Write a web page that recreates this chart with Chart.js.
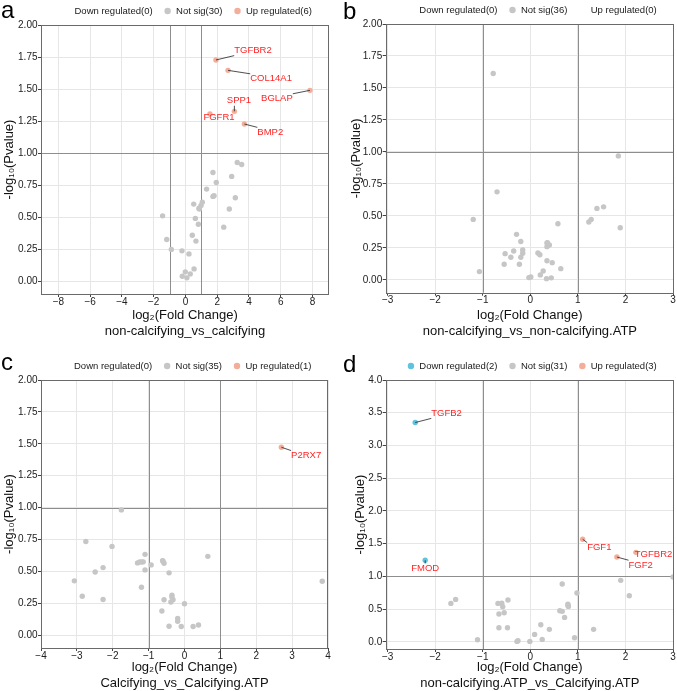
<!DOCTYPE html>
<html>
<head>
<meta charset="utf-8">
<title>Volcano plots</title>
<script src="https://cdn.jsdelivr.net/npm/chart.js@4.4.1/dist/chart.umd.min.js"></script>
<style>
  html, body { margin: 0; padding: 0; background: #fff; }
  #wrap { position: relative; width: 677px; height: 691px; }
  canvas { position: absolute; }
</style>
</head>
<body>
<div id="wrap">
  <canvas id="panelA" width="338" height="345" style="left:0;top:0"></canvas>
  <canvas id="panelB" width="339" height="345" style="left:338px;top:0"></canvas>
  <canvas id="panelC" width="338" height="346" style="left:0;top:345px"></canvas>
  <canvas id="panelD" width="339" height="346" style="left:338px;top:345px"></canvas>
</div>
<script>
// ===== Data (log2 fold change / -log10 p value) =====

// a: non-calcifying_vs_calcifying
const aNotSigX = [3.26, 3.54, 1.73, 2.91, 1.94, 1.33, 1.73, 1.80, 3.14, 1.06, 0.52, 0.98, 0.87, 2.76, -1.44, 0.62, 0.81, 2.41, 0.43, 0.66, -1.18, -0.89, -0.22, 0.22, 0.54, -0.01, 0.30, -0.20, 0.09, 0.85];
const aNotSigY = [0.927, 0.911, 0.849, 0.818, 0.771, 0.719, 0.662, 0.667, 0.651, 0.617, 0.602, 0.591, 0.563, 0.563, 0.510, 0.490, 0.445, 0.422, 0.359, 0.313, 0.326, 0.248, 0.237, 0.213, 0.096, 0.073, 0.057, 0.039, 0.026, 0.570];
const aUpGenes = ["TGFBR2", "COL14A1", "BGLAP", "SPP1", "FGFR1", "BMP2"];
const aUpX = [1.92, 2.68, 7.84, 3.08, 1.54, 3.71];
const aUpY = [1.727, 1.646, 1.490, 1.326, 1.305, 1.227];
const aDownGenes = [];
const aDownX = [];
const aDownY = [];

// b: non-calcifying_vs_non-calcifying.ATP
const bNotSigX = [-0.78, 1.85, -0.70, -1.20, 1.40, 1.54, 1.23, 1.28, 1.89, 0.58, -0.29, -0.20, 0.35, 0.40, 0.35, -0.35, -0.16, -0.16, -0.53, -0.41, -0.20, 0.16, 0.20, 0.35, 0.46, -0.55, -0.23, 0.64, -1.07, 0.27, 0.21, 0.01, -0.03, 0.34, 0.44, 0.36];
const bNotSigY = [1.613, 0.969, 0.688, 0.473, 0.559, 0.571, 0.452, 0.473, 0.408, 0.439, 0.356, 0.300, 0.288, 0.273, 0.260, 0.226, 0.234, 0.208, 0.205, 0.177, 0.177, 0.210, 0.197, 0.150, 0.135, 0.122, 0.122, 0.088, 0.065, 0.070, 0.039, 0.023, 0.018, 0.010, 0.016, 0.290];
const bUpGenes = [];
const bUpX = [];
const bUpY = [];
const bDownGenes = [];
const bDownX = [];
const bDownY = [];

// c: Calcifying_vs_Calcifying.ATP
const cNotSigX = [-1.76, -2.75, -2.02, 0.65, -1.10, -1.31, -1.25, -1.19, -0.93, -0.61, -0.57, -1.10, -0.43, -2.27, -2.49, -3.07, -1.20, -2.85, -2.27, -0.35, -0.57, -0.32, -0.38, 0.00, -0.63, -0.19, -0.19, -0.43, -0.09, 0.24, 0.39, 3.84, -1.15, -0.35, -0.60];
const cNotSigY = [0.982, 0.735, 0.696, 0.618, 0.634, 0.567, 0.574, 0.574, 0.551, 0.585, 0.564, 0.512, 0.489, 0.530, 0.496, 0.426, 0.376, 0.306, 0.280, 0.314, 0.278, 0.278, 0.260, 0.247, 0.190, 0.132, 0.109, 0.070, 0.068, 0.068, 0.080, 0.423, 0.575, 0.300, 0.580];
const cUpGenes = ["P2RX7"];
const cUpX = [2.70];
const cUpY = [1.473];
const cDownGenes = [];
const cDownX = [];
const cDownY = [];

// d: non-calcifying.ATP_vs_Calcifying.ATP
const dNotSigX = [0.67, 0.98, 1.90, 2.08, -1.67, -1.57, -0.68, -0.58, -0.47, -0.66, -0.55, 0.62, 0.67, 0.79, 0.80, 0.72, -0.66, -0.48, 0.22, 0.40, 1.33, 0.09, 0.25, 0.93, -1.11, -0.26, -0.28, -0.01, 3.00, 0.79, -0.60];
const dNotSigY = [0.882, 0.745, 0.939, 0.703, 0.587, 0.648, 0.587, 0.535, 0.638, 0.424, 0.443, 0.474, 0.465, 0.576, 0.541, 0.373, 0.214, 0.214, 0.260, 0.190, 0.190, 0.113, 0.037, 0.061, 0.031, 0.015, 0.006, 0.006, 0.990, 0.560, 0.590];
const dUpGenes = ["FGF1", "FGF2", "TGFBR2"];
const dUpX = [1.10, 1.82, 2.22];
const dUpY = [1.566, 1.295, 1.367];
const dDownGenes = ["TGFB2", "FMOD"];
const dDownX = [-2.42, -2.21];
const dDownY = [3.35, 1.245];

// Tick labels
const xTicksA = [-8, -6, -4, -2, 0, 2, 4, 6, 8];
const xTicksB = [-3, -2, -1, 0, 1, 2, 3];
const xTicksC = [-4, -3, -2, -1, 0, 1, 2, 3, 4];
const xTicksD = [-3, -2, -1, 0, 1, 2, 3];
const yTicks2 = [0, 0.25, 0.5, 0.75, 1, 1.25, 1.5, 1.75, 2];
const yTicksD = [0, 0.5, 1, 1.5, 2, 2.5, 3, 3.5, 4];

// Cut-offs
const FC_CUTOFFS = [-1, 1];
const P_CUTOFF = 1;

// Where the gene labels sit (data units)
const labelPosA = { TGFBR2: [4.25, 1.80], COL14A1: [5.39, 1.58], BGLAP: [5.76, 1.424], SPP1: [3.37, 1.409], FGFR1: [2.11, 1.277], BMP2: [5.34, 1.162] };
const labelPosC = { P2RX7: [3.39, 1.408] };
const labelPosD = { TGFB2: [-1.76, 3.49], FMOD: [-2.21, 1.12], FGF1: [1.45, 1.44], FGF2: [2.32, 1.17], TGFBR2: [2.59, 1.34] };

// ===== Styles =====
const FONT = '"Liberation Sans", Arial, Helvetica, sans-serif';
const COL_DOWN = "#5ec4dd";
const COL_NS = "#c6c6c6";
const COL_UP = "#f4ad98";
const COL_LABEL = "#ff2424";

function pts(xs, ys) {
  return xs.map((x, i) => ({ x, y: ys[i] }));
}

function minus(v) {
  return String(v).replace("-", "\u2212");
}

// Plugin: cut-off lines, gene labels, panel frame, legend and panel letter
const volcanoPlugin = {
  id: "volcano",
  beforeDatasetsDraw(chart) {
    const { ctx, chartArea: a, scales: { x, y } } = chart;
    ctx.save();
    ctx.strokeStyle = "#8e8e8e";
    ctx.lineWidth = 1;
    ctx.beginPath();
    FC_CUTOFFS.forEach(v => {
      const px = Math.round(x.getPixelForValue(v)) + 0.5;
      ctx.moveTo(px, a.top);
      ctx.lineTo(px, a.bottom);
    });
    const py = Math.round(y.getPixelForValue(P_CUTOFF)) + 0.5;
    ctx.moveTo(a.left, py);
    ctx.lineTo(a.right, py);
    ctx.stroke();
    ctx.restore();
  },
  afterDatasetsDraw(chart, args, opts) {
    const { ctx, chartArea: a, scales: { x, y } } = chart;
    ctx.save();
    ctx.font = "9.5px " + FONT;
    ctx.textAlign = "center";
    ctx.textBaseline = "middle";
    chart.data.datasets.forEach(ds => {
      (ds.genes || []).forEach((g, i) => {
        const pos = opts.labelPos[g];
        if (!pos) return;
        const px = x.getPixelForValue(ds.data[i].x);
        const py = y.getPixelForValue(ds.data[i].y);
        const lx = x.getPixelForValue(pos[0]);
        const ly = y.getPixelForValue(pos[1]);
        const w = ctx.measureText(g).width;
        const l = lx - w / 2, r = lx + w / 2, t = ly - 5, b = ly + 5;
        const inside = px >= l && px <= r && py >= t && py <= b;
        if (!inside) {
          const ex = Math.min(Math.max(px, l), r);
          const ey = Math.min(Math.max(py, t), b);
          ctx.strokeStyle = "#222";
          ctx.lineWidth = 0.8;
          ctx.beginPath();
          ctx.moveTo(px, py);
          ctx.lineTo(ex, ey);
          ctx.stroke();
        }
        ctx.fillStyle = COL_LABEL;
        ctx.fillText(g, lx, ly);
      });
    });
    // panel frame
    ctx.strokeStyle = "#6a6a6a";
    ctx.lineWidth = 1;
    ctx.strokeRect(Math.round(a.left) + 0.5, Math.round(a.top) + 0.5, Math.round(a.right - a.left) - 1, Math.round(a.bottom - a.top));
    ctx.restore();
  },
  afterDraw(chart, args, opts) {
    const { ctx, chartArea: a } = chart;
    ctx.save();
    // legend
    ctx.font = "9.5px " + FONT;
    ctx.textBaseline = "middle";
    ctx.textAlign = "left";
    const items = chart.data.datasets.map(ds => ({ text: ds.label, color: ds.backgroundColor, empty: ds.data.length === 0 }));
    const gap = 11;
    const widths = items.map(it => 12.4 + ctx.measureText(it.text).width);
    const total = widths.reduce((s, w) => s + w, 0) + gap * (items.length - 1);
    let lx = (a.left + a.right) / 2 + 2 - total / 2;
    const ly = a.top - 14;
    items.forEach((it, i) => {
      if (!it.empty) {
        ctx.beginPath();
        ctx.arc(lx + 4, ly, 3.2, 0, Math.PI * 2);
        ctx.fillStyle = it.color;
        ctx.fill();
      }
      ctx.fillStyle = "#1a1a1a";
      ctx.fillText(it.text, lx + 12.4, ly);
      lx += widths[i] + gap;
    });
    // panel letter
    ctx.font = "24px " + FONT;
    ctx.textBaseline = "alphabetic";
    ctx.fillStyle = "#000";
    ctx.fillText(opts.letter, opts.letterX, opts.letterY);
    ctx.restore();
  }
};

function makeVolcano(id, cfg) {
  const ctx = document.getElementById(id).getContext("2d");
  const H = ctx.canvas.height;
  return new Chart(ctx, {
    type: "scatter",
    data: {
      datasets: [
        { label: `Down regulated(${cfg.downX.length})`, data: pts(cfg.downX, cfg.downY), genes: cfg.downGenes, backgroundColor: COL_DOWN },
        { label: `Not sig(${cfg.nsX.length})`, data: pts(cfg.nsX, cfg.nsY), backgroundColor: COL_NS },
        { label: `Up regulated(${cfg.upX.length})`, data: pts(cfg.upX, cfg.upY), genes: cfg.upGenes, backgroundColor: COL_UP }
      ]
    },
    options: {
      responsive: false,
      animation: false,
      events: [],
      layout: { autoPadding: false, padding: { top: cfg.top, right: cfg.right, left: 0, bottom: 0 } },
      elements: { point: { radius: 2.7, borderWidth: 0, hoverRadius: 2.7 } },
      plugins: {
        legend: { display: false },
        tooltip: { enabled: false },
        volcano: { letter: cfg.letter, letterX: cfg.letterX, letterY: cfg.letterY, labelPos: cfg.labelPos }
      },
      scales: {
        x: {
          type: "linear",
          min: cfg.xMin,
          max: cfg.xMax,
          afterBuildTicks: axis => { axis.ticks = cfg.xTicks.map(v => ({ value: v })); },
          afterFit: scale => { scale.height = H - cfg.bottom; },
          grid: { color: "#e6e6e6", tickColor: "#444", tickLength: 3 },
          border: { display: false },
          ticks: { color: "#222", padding: 0, maxRotation: 0, font: { family: FONT, size: 10, lineHeight: 1 }, callback: v => minus(v) },
          title: {
            display: true,
            text: ["log\u2082(Fold Change)", cfg.comparison],
            color: "#111",
            font: { family: FONT, size: 13, lineHeight: 16 / 13 },
            padding: { top: 0, bottom: cfg.titlePadBottom }
          }
        },
        y: {
          type: "linear",
          min: cfg.yMin,
          max: cfg.yMax,
          afterBuildTicks: axis => { axis.ticks = cfg.yTicks.map(v => ({ value: v })); },
          afterFit: scale => { scale.width = cfg.left; },
          grid: { color: "#e6e6e6", tickColor: "#444", tickLength: 3 },
          border: { display: false },
          ticks: { color: "#222", padding: 0.5, font: { family: FONT, size: 10, lineHeight: 1 }, callback: v => v.toFixed(cfg.yDecimals) },
          title: {
            display: true,
            text: "-log\u2081\u2080(Pvalue)",
            color: "#111",
            font: { family: FONT, size: 13, lineHeight: 16 / 13 },
            padding: { top: cfg.yTitlePad, bottom: 0 }
          }
        }
      }
    },
    plugins: [volcanoPlugin]
  });
}

makeVolcano("panelA", {
  letter: "a", letterX: 1, letterY: 18,
  comparison: "non-calcifying_vs_calcifying",
  nsX: aNotSigX, nsY: aNotSigY, upX: aUpX, upY: aUpY, upGenes: aUpGenes, downX: aDownX, downY: aDownY, downGenes: aDownGenes,
  labelPos: labelPosA,
  xMin: -9.1, xMax: 9.04, xTicks: xTicksA,
  yMin: -0.1, yMax: 2.0, yTicks: yTicks2, yDecimals: 2,
  top: 25, right: 9, left: 41, bottom: 294, titlePadBottom: 6, yTitlePad: 1
});

makeVolcano("panelB", {
  letter: "b", letterX: 5, letterY: 19,
  comparison: "non-calcifying_vs_non-calcifying.ATP",
  nsX: bNotSigX, nsY: bNotSigY, upX: bUpX, upY: bUpY, upGenes: bUpGenes, downX: bDownX, downY: bDownY, downGenes: bDownGenes,
  labelPos: {},
  xMin: -3.04, xMax: 3.02, xTicks: xTicksB,
  yMin: -0.1, yMax: 2.0, yTicks: yTicks2, yDecimals: 2,
  top: 24, right: 3, left: 47.7, bottom: 292.7, titlePadBottom: 6, yTitlePad: 10.7
});

makeVolcano("panelC", {
  letter: "c", letterX: 1, letterY: 25,
  comparison: "Calcifying_vs_Calcifying.ATP",
  nsX: cNotSigX, nsY: cNotSigY, upX: cUpX, upY: cUpY, upGenes: cUpGenes, downX: cDownX, downY: cDownY, downGenes: cDownGenes,
  labelPos: labelPosC,
  xMin: -4, xMax: 4, xTicks: xTicksC,
  yMin: -0.1, yMax: 2.0, yTicks: yTicks2, yDecimals: 2,
  top: 35, right: 10, left: 41, bottom: 303, titlePadBottom: 0, yTitlePad: 1.5
});

makeVolcano("panelD", {
  letter: "d", letterX: 5, letterY: 27,
  comparison: "non-calcifying.ATP_vs_Calcifying.ATP",
  nsX: dNotSigX, nsY: dNotSigY, upX: dUpX, upY: dUpY, upGenes: dUpGenes, downX: dDownX, downY: dDownY, downGenes: dDownGenes,
  labelPos: labelPosD,
  xMin: -3.04, xMax: 3.02, xTicks: xTicksD,
  yMin: -0.11, yMax: 4.0, yTicks: yTicksD, yDecimals: 1,
  top: 35, right: 3, left: 47.7, bottom: 304, titlePadBottom: 0, yTitlePad: 14
});
</script>
</body>
</html>
